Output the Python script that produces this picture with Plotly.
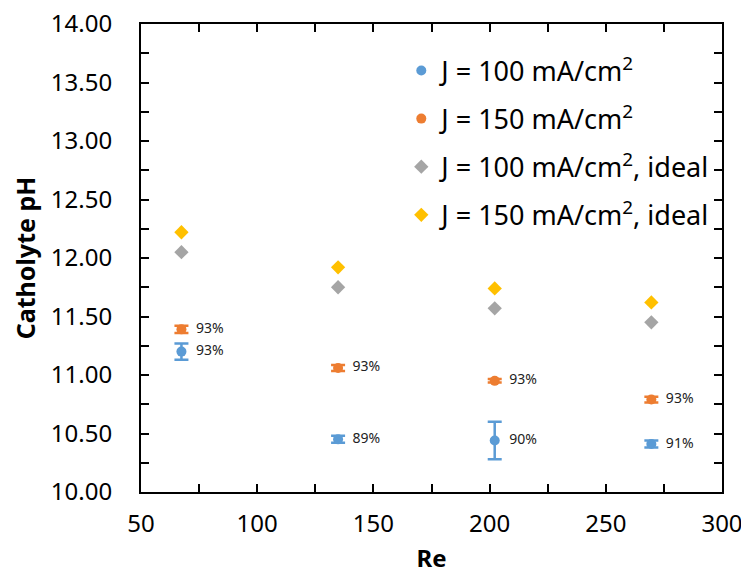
import plotly.graph_objects as go

re_vals = [67.4, 134.8, 202.2, 269.6]

ph_100 = [11.20, 10.45, 10.44, 10.41]
err_100 = [0.07, 0.03, 0.16, 0.03]
lbl_100 = ["93%", "89%", "90%", "91%"]

ph_150 = [11.39, 11.06, 10.95, 10.79]
err_150 = [0.03, 0.025, 0.015, 0.025]
lbl_150 = ["93%", "93%", "93%", "93%"]

ph_100_ideal = [12.05, 11.75, 11.57, 11.45]
ph_150_ideal = [12.22, 11.92, 11.74, 11.62]

FONT = "Noto Sans"
fig = go.Figure()

fig.add_trace(go.Scatter(
    x=re_vals, y=ph_100, mode="markers+text", name="J = 100 mA/cm<sup>2</sup>",
    marker=dict(color="#5B9BD5", size=10, symbol="circle"),
    error_y=dict(type="data", array=err_100, color="#5B9BD5", thickness=2.5, width=7),
    text=lbl_100, texttemplate="  %{text}", textposition="middle right",
    textfont=dict(size=14, color="#222", family=FONT),
    legendgroup="a",
))
fig.add_trace(go.Scatter(
    x=re_vals, y=ph_150, mode="markers+text", name="J = 150 mA/cm<sup>2</sup>",
    marker=dict(color="#ED7D31", size=10, symbol="circle"),
    error_y=dict(type="data", array=err_150, color="#ED7D31", thickness=2.5, width=7),
    text=lbl_150, texttemplate="  %{text}", textposition="middle right",
    textfont=dict(size=14, color="#222", family=FONT),
    legendgroup="b",
))
fig.add_trace(go.Scatter(
    x=re_vals, y=ph_100_ideal, mode="markers", name="J = 100 mA/cm<sup>2</sup>, ideal",
    marker=dict(color="#A5A5A5", size=11, symbol="diamond"),
    legendgroup="c",
))
fig.add_trace(go.Scatter(
    x=re_vals, y=ph_150_ideal, mode="markers", name="J = 150 mA/cm<sup>2</sup>, ideal",
    marker=dict(color="#FFC000", size=11, symbol="diamond"),
    legendgroup="d",
))

axis_common = dict(
    showline=True, linecolor="black", linewidth=2, mirror="ticks",
    ticks="inside", ticklen=8, tickwidth=2, tickcolor="black",
    showgrid=False, zeroline=False, automargin=False, ticklabeloverflow="allow",
    tickfont=dict(size=24, color="black", family=FONT),
)

fig.update_xaxes(
    range=[50, 300], dtick=50, tick0=50, ticklabelstandoff=9,
    minor=dict(dtick=25, ticks="inside", ticklen=8, tickwidth=2, tickcolor="black"),
    title=dict(text="<b>Re</b>", font=dict(size=24, color="black", family=FONT), standoff=12),
    **axis_common,
)
fig.update_yaxes(
    range=[10, 14], dtick=0.5, tick0=10, tickformat=".2f", ticklabelstandoff=22,
    minor=dict(dtick=0.25, ticks="inside", ticklen=8, tickwidth=2, tickcolor="black"),
    title=dict(text="<b>Catholyte pH</b>", font=dict(size=25, color="black", family=FONT), standoff=10),
    **axis_common,
)

# The page body has an 8px default margin, so the figure is sized to fit the 749x575 window.
fig.update_layout(
    width=741, height=567,
    margin=dict(l=133, r=27, t=16, b=83),
    paper_bgcolor="white", plot_bgcolor="white",
    showlegend=True,
    legend=dict(
        x=0.448, y=0.952, xanchor="left", yanchor="top",
        font=dict(size=27, color="black", family=FONT),
        bgcolor="rgba(0,0,0,0)", traceorder="grouped", tracegroupgap=10,
        itemwidth=30,
    ),
    font=dict(family=FONT),
)

fig.write_html("out.html")
